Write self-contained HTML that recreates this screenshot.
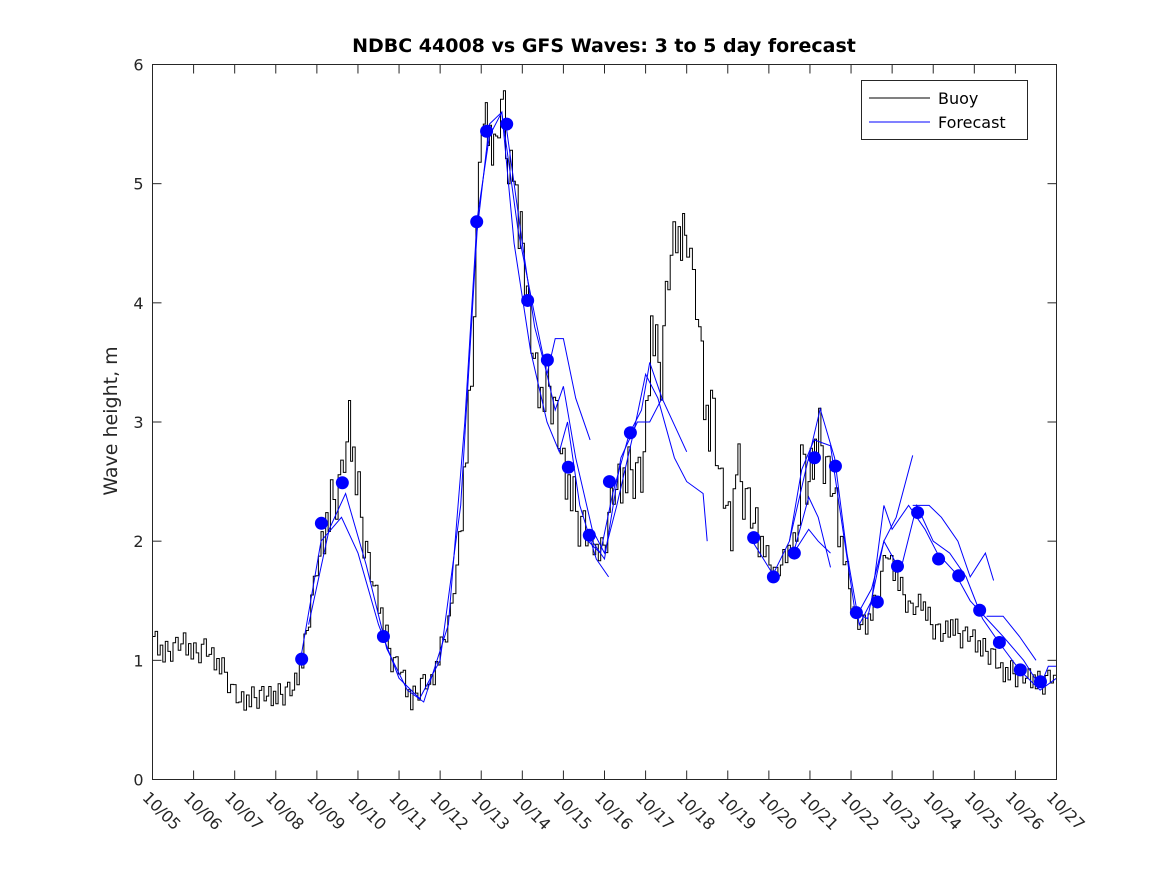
<!DOCTYPE html>
<html><head><meta charset="utf-8"><style>
body{margin:0;background:#fff}
svg{display:block;font-family:"DejaVu Sans","Liberation Sans",sans-serif}
</style></head><body>
<svg id="chart" width="1167" height="875" viewBox="0 0 1167 875">
<rect width="1167" height="875" fill="#fff"/>
<text x="604" y="52" text-anchor="middle" font-size="19" font-weight="bold" fill="#000">NDBC 44008 vs GFS Waves: 3 to 5 day forecast</text>
<text transform="translate(117,421) rotate(-90)" text-anchor="middle" font-size="19" fill="#262626">Wave height, m</text>
<g id="axes"></g>
<g id="series"></g>
<rect x="152.5" y="64.5" width="904" height="715" fill="none" stroke="#262626" stroke-width="1"/>
<g>
<rect x="861.5" y="80.5" width="166" height="59" fill="#fff" stroke="#262626"/>
<line x1="869" y1="98" x2="930" y2="98" stroke="#000"/>
<text x="938" y="104" font-size="16" fill="#000">Buoy</text>
<line x1="869" y1="122" x2="930" y2="122" stroke="#0000ff"/>
<text x="938" y="128" font-size="16" fill="#000">Forecast</text>
</g>
</svg>
<script>
const xTickLabels=["10/05","10/06","10/07","10/08","10/09","10/10","10/11","10/12","10/13","10/14","10/15","10/16","10/17","10/18","10/19","10/20","10/21","10/22","10/23","10/24","10/25","10/26","10/27"];
const yTicks=[0,1,2,3,4,5,6];
const buoyDays=[0,0.25,0.5,0.75,1.0,1.25,1.5,1.75,1.9,2.1,2.6,3.0,3.4,3.63,3.85,4.1,4.33,4.58,4.77,4.87,5.06,5.3,5.55,5.8,6.04,6.28,6.52,6.77,7.0,7.25,7.45,7.62,7.74,7.81,7.93,8.0,8.15,8.3,8.4,8.54,8.64,8.76,8.9,9.0,9.15,9.32,9.44,9.64,9.81,9.98,10.17,10.42,10.66,10.85,11.02,11.2,11.39,11.63,11.88,12.0,12.12,12.24,12.36,12.48,12.6,12.73,12.85,13.0,13.14,13.29,13.41,13.53,13.63,13.77,13.95,14.07,14.19,14.36,14.55,14.8,15.0,15.16,15.4,15.65,15.77,15.9,16.06,16.21,16.38,16.55,16.74,16.94,17.1,17.35,17.6,17.84,17.96,18.2,18.45,18.7,18.93,19.18,19.42,19.66,19.9,20.15,20.4,20.64,20.88,21.12,21.37,21.6,21.85,22.0];
const buoyValues=[1.2,1.05,1.1,1.15,1.05,1.1,1.0,0.9,0.75,0.65,0.7,0.7,0.75,1.0,1.5,2.0,2.3,2.5,3.0,2.7,2.2,1.7,1.4,1.0,0.9,0.65,0.8,0.8,1.1,1.4,2.0,2.8,3.3,4.1,5.0,5.5,5.5,5.2,5.6,5.6,5.0,5.2,4.6,4.5,3.8,3.4,3.2,3.3,3.0,2.6,2.4,2.1,2.0,1.9,2.0,2.4,2.5,2.6,2.5,3.0,3.8,3.6,3.4,4.0,4.4,4.6,4.5,4.6,4.1,3.8,3.2,2.9,3.2,2.5,2.3,2.0,2.7,2.4,2.2,2.0,1.8,1.7,1.9,2.0,2.7,2.4,2.7,2.9,2.6,2.4,2.0,1.6,1.3,1.3,1.5,1.9,1.8,1.6,1.4,1.5,1.3,1.2,1.3,1.2,1.2,1.1,1.05,0.9,0.9,0.85,0.85,0.8,0.85,0.9];
const buoyJitter=[0,0.1,-0.1,0.05,-0.08,0.12,0,-0.12,0.06,0.1,-0.05];
const forecastDays=[3.63,4.11,4.62,5.62,7.89,8.13,8.62,9.13,9.61,10.12,10.63,11.12,11.63,14.63,15.11,15.62,16.11,16.62,17.13,17.64,18.13,18.62,19.13,19.62,20.13,20.61,21.12,21.61];
const forecastValues=[1.01,2.15,2.49,1.2,4.68,5.44,5.5,4.02,3.52,2.62,2.05,2.5,2.91,2.03,1.7,1.9,2.7,2.63,1.4,1.49,1.79,2.24,1.85,1.71,1.42,1.15,0.92,0.82];
const forecastRun1=[[3.6,1.0],[4.1,2.0],[4.6,2.2],[5.0,1.9],[5.5,1.3],[6.0,0.85],[6.5,0.68],[7.0,1.0],[7.5,2.3],[7.9,4.6],[8.2,5.5],[8.5,5.6],[8.8,4.5],[9.2,3.6],[9.6,3.0],[9.9,2.75],[10.1,3.0],[10.4,2.3],[10.8,1.85],[11.1,1.7]];
const forecastRun2=[[3.8,1.3],[4.3,2.1],[4.7,2.4],[5.2,1.8],[5.7,1.1],[6.2,0.75],[6.6,0.65],[7.2,1.3],[7.6,3.0],[7.9,4.7],[8.2,5.4],[8.5,5.6],[8.9,4.6],[9.3,3.9],[9.6,3.4],[9.8,3.1],[10.0,3.3],[10.3,2.7],[10.7,2.1],[11.0,1.9],[11.3,2.3],[11.7,2.9],[12.0,3.4],[12.3,3.2],[12.7,2.7],[13.0,2.5],[13.4,2.4],[13.5,2.0]];
const forecastRun3=[[8.6,5.5],[9.0,4.5],[9.3,3.8],[9.6,3.4],[9.8,3.7],[10.0,3.7],[10.3,3.2],[10.65,2.85]];
const forecastRun4=[[10.6,2.0],[10.9,1.9],[11.2,2.4],[11.6,2.9],[11.9,3.1],[12.1,3.5],[12.4,3.2],[12.8,2.9],[13.0,2.75]];
const forecastRun5=[[10.7,2.0],[11.0,1.85],[11.4,2.7],[11.8,3.0],[12.1,3.0],[12.4,3.2]];
const forecastRun6=[[14.6,2.0],[15.1,1.72],[15.5,2.0],[15.8,2.6],[16.1,2.85],[16.5,2.8],[16.8,2.1],[17.1,1.4],[17.4,1.35],[17.8,2.0],[18.2,1.75],[18.6,2.3],[19.0,2.0],[19.4,1.9],[19.8,1.7],[20.2,1.35],[20.6,1.15],[21.1,0.92],[21.6,0.75],[22.0,0.85]];
const forecastRun7=[[15.5,2.0],[15.9,2.6],[16.25,3.11],[16.6,2.7],[16.9,1.9],[17.2,1.3],[17.5,1.5],[17.8,2.3],[18.0,2.1],[18.4,2.3],[18.8,2.1],[19.1,1.9],[19.5,1.75],[19.9,1.5],[20.3,1.35],[20.7,1.2],[21.2,1.0],[21.6,0.78],[21.8,0.95],[22.0,0.95]];
const forecastRun8=[[15.6,1.9],[15.97,2.37],[16.2,2.2],[16.5,1.78]];
const forecastRun9=[[15.6,1.9],[15.97,2.1],[16.2,2.0],[16.5,1.9]];
const forecastRun10=[[17.1,1.35],[17.5,1.6],[17.8,2.0],[18.1,2.2],[18.5,2.72]];
const forecastRun11=[[18.5,2.3],[18.9,2.3],[19.2,2.2],[19.6,2.0],[19.9,1.7],[20.27,1.9],[20.47,1.67]];
const forecastRun12=[[20.3,1.37],[20.7,1.37],[21.1,1.2],[21.5,1.0]];

const NS="http://www.w3.org/2000/svg";
const X0=152.5,X1=1056.5,Y0=779.5,Y1=64.5;
const xScale=d=>X0+(d/22)*(X1-X0);
const yScale=v=>Y0-(v/6)*(Y0-Y1);
const axes=document.getElementById('axes'),series=document.getElementById('series');
function mk(tag,attrs,parent){const e=document.createElementNS(NS,tag);for(const k in attrs)e.setAttribute(k,attrs[k]);parent.appendChild(e);return e;}

xTickLabels.forEach((lab,i)=>{
  const x=xScale(i);
  const t=mk('line',{x1:x,y1:Y0,x2:x,y2:Y0-9,stroke:'#262626'},axes);
  
  
  const t2=mk('line',{x1:x,y1:Y1,x2:x,y2:Y1+9,stroke:'#262626'},axes);
  
  
  const tx=mk('text',{transform:`translate(${x-11},${Y0+19}) rotate(45)`,'font-size':'16',fill:'#262626'},axes);
  tx.textContent=lab;
  
  
});
yTicks.forEach(v=>{
  const y=yScale(v);
  const t=mk('line',{x1:X0,y1:y,x2:X0+9,y2:y,stroke:'#262626'},axes);
  
  
  const t2=mk('line',{x1:X1,y1:y,x2:X1-9,y2:y,stroke:'#262626'},axes);
  
  
  const tx=mk('text',{x:X0-9,y:y+6,'text-anchor':'end','font-size':'16',fill:'#262626'},axes);
  tx.textContent=v;
  
  
});

// buoy step line with hourly-ish jitter between observations
let d='';let j=0;
for(let i=0;i<buoyDays.length;i++){
  const t0=buoyDays[i],t1=i+1<buoyDays.length?buoyDays[i+1]:22;
  const v0=buoyValues[i],v1=i+1<buoyValues.length?buoyValues[i+1]:v0;
  const steps=Math.max(1,Math.round((t1-t0)/0.06));
  for(let k=0;k<steps;k++){
    const f=k/steps,tt=t0+(t1-t0)*f;
    const base=v0+(v1-v0)*f;
    const v=Math.max(0,base+buoyJitter[(j++)%buoyJitter.length]*(base>2?1.8:0.8));
    const x=xScale(tt).toFixed(1),y=yScale(v).toFixed(1);
    d+=(d?'H'+x+'V'+y:'M'+x+' '+y);
  }
}
const bl=mk('path',{d:d,fill:'none',stroke:'#000','stroke-width':'1'},series);



[forecastRun1,forecastRun2,forecastRun3,forecastRun4,forecastRun5,forecastRun6,forecastRun7,forecastRun8,forecastRun9,forecastRun10,forecastRun11,forecastRun12].forEach(run=>{
  const p=run.map((pt,i)=>(i?'L':'M')+xScale(pt[0]).toFixed(1)+' '+yScale(pt[1]).toFixed(1)).join('');
  const e=mk('path',{d:p,fill:'none',stroke:'#0000ff','stroke-width':'1'},series);
  
  
});
forecastDays.forEach((dd,i)=>{
  const c=mk('circle',{cx:xScale(dd),cy:yScale(forecastValues[i]),r:6.5,fill:'#0000ff'},series);
  
  
});
</script>
</body></html>
